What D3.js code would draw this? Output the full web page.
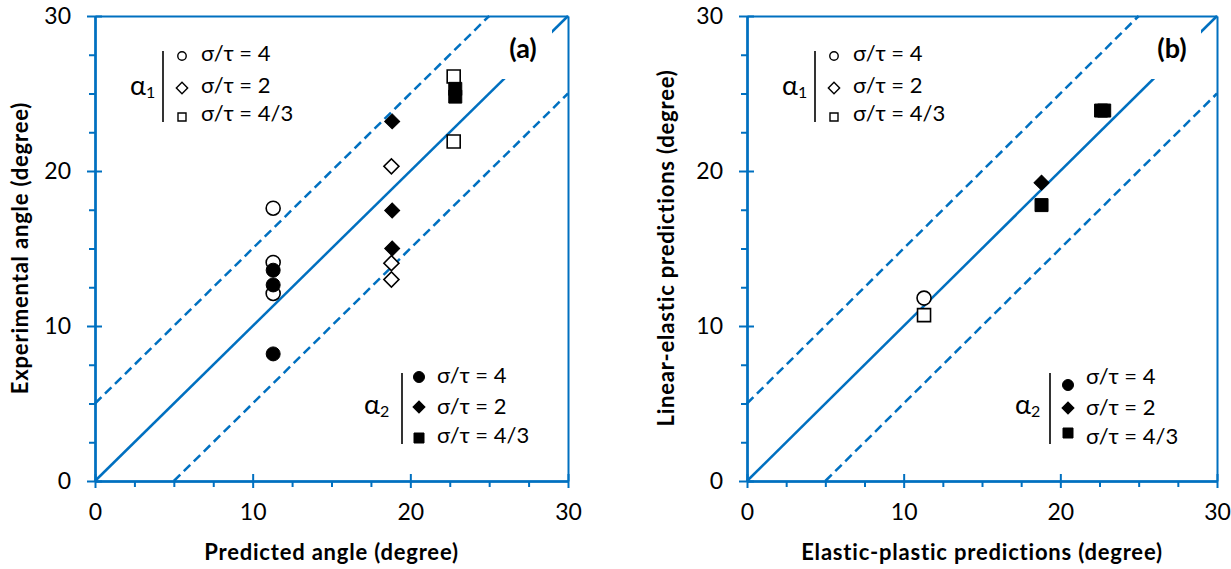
<!DOCTYPE html>
<html>
<head>
<meta charset="utf-8">
<script src="https://cdn.jsdelivr.net/npm/d3@7"></script>
<style>
    body { margin: 0; background: #fff; }
    svg { display: block; font-family: Lato, "Open Sans", sans-serif; }
</style>
</head>
<body>
<svg id="chart" width="1231" height="569"></svg>
<script>
// Axis values (both panels share 0..30 degrees)
const axisDomain = [0, 30];
const majorTicks = [0, 10, 20, 30];
const minorTicks = [2.5, 5, 7.5, 12.5, 15, 17.5, 22.5, 25, 27.5];

// Reference lines: y = x and the +/- 5 degree band
const refSolid = [[0, 0], [30, 30]];
const refUpper = [[0, 5], [25, 30]];
const refLower = [[5, 0], [30, 25]];

const ratioLabels = ['σ/τ = 4', 'σ/τ = 2', 'σ/τ = 4/3'];
const ratioShapes = ['circle', 'diamond', 'square'];

// Panel (a): predicted vs experimental angle
const aAlpha1Ratio4 = [[11.3, 17.6], [11.3, 14.1], [11.3, 12.1]];
const aAlpha2Ratio4 = [[11.3, 13.6], [11.3, 12.65], [11.3, 8.2]];
const aAlpha1Ratio2 = [[18.8, 20.3], [18.8, 14.05], [18.8, 13.0]];
const aAlpha2Ratio2 = [[18.85, 23.2], [18.85, 17.45], [18.85, 15.0]];
const aAlpha1Ratio43 = [[22.75, 26.1], [22.75, 21.9]];
const aAlpha2Ratio43 = [[22.85, 25.3], [22.85, 24.8]];

// Panel (b): elastic-plastic vs linear-elastic predictions
const bAlpha1Ratio4 = [[11.3, 11.8]];
const bAlpha1Ratio43 = [[11.3, 10.7]];
const bAlpha2Ratio2 = [[18.8, 19.25]];
const bAlpha2Ratio43 = [[18.8, 17.8], [22.6, 23.9], [22.8, 23.9]];

const blue = '#0070C0';
const plotTop = 16;
const plotBottom = 481;

const svg = d3.select('#chart');

const panels = [
    {
        left: 95, right: 568, label: '(a)',
        xTitle: 'Predicted angle (degree)', yTitle: 'Experimental angle (degree)',
        yTitleX: 20,
        series: [
            { data: aAlpha1Ratio4, shape: 'circle', filled: false },
            { data: aAlpha2Ratio4, shape: 'circle', filled: true },
            { data: aAlpha1Ratio2, shape: 'diamond', filled: false },
            { data: aAlpha2Ratio2, shape: 'diamond', filled: true },
            { data: aAlpha1Ratio43, shape: 'square', filled: false },
            { data: aAlpha2Ratio43, shape: 'square', filled: true }
        ],
        legendLow: { alpha: 271, bar: 307, marker: 324, text: 342, markerY: [377, 407, 438], textY: [383, 414, 443] }
    },
    {
        left: 747, right: 1217, label: '(b)',
        xTitle: 'Elastic-plastic predictions (degree)', yTitle: 'Linear-elastic predictions (degree)',
        yTitleX: 666,
        series: [
            { data: bAlpha1Ratio4, shape: 'circle', filled: false },
            { data: bAlpha1Ratio43, shape: 'square', filled: false },
            { data: bAlpha2Ratio2, shape: 'diamond', filled: true },
            { data: bAlpha2Ratio43, shape: 'square', filled: true }
        ],
        legendLow: { alpha: 270, bar: 303, marker: 321, text: 339, markerY: [385, 408, 433], textY: [384, 415, 444] }
    }
];

// marker sizes (symbol area)
const bigSize = { circle: 154, square: 169, diamond: 113 };
const legendTopSize = { circle: 56, square: 64, diamond: 64 };
const legendLowSize = { circle: 95, square: 100, diamond: 72 };

function markerPath(shape, size) {
    const type = shape === 'circle' ? d3.symbolCircle : d3.symbolSquare;
    return d3.symbol().type(type).size(size)();
}

function markerTransform(shape, px, py) {
    return `translate(${px},${py})` + (shape === 'diamond' ? ' rotate(45)' : '');
}

function styleAxis(sel) {
    sel.selectAll('path, line').attr('stroke', blue).attr('stroke-width', 2);
    sel.selectAll('text')
        .attr('font-family', 'Lato, "Open Sans", sans-serif')
        .attr('font-size', 23)
        .attr('fill', '#000');
}

function drawLegend(g, x0, cfg, filled) {
    g.append('text')
        .attr('x', x0 + cfg.alpha - 2)
        .attr('y', cfg.alphaY)
        .attr('font-size', 27)
        .html(`α<tspan font-size="16" dy="3">${filled ? 2 : 1}</tspan>`);

    g.append('line')
        .attr('x1', x0 + cfg.bar).attr('x2', x0 + cfg.bar)
        .attr('y1', cfg.barY[0]).attr('y2', cfg.barY[1])
        .attr('stroke', '#000').attr('stroke-width', 1.6);

    const sizes = filled ? legendLowSize : legendTopSize;
    ratioShapes.forEach((shape, i) => {
        g.append('path')
            .attr('d', markerPath(shape, sizes[shape]))
            .attr('transform', markerTransform(shape, x0 + cfg.marker, cfg.markerY[i]))
            .attr('fill', filled ? '#000' : '#fff')
            .attr('stroke', '#000')
            .attr('stroke-width', filled ? 1 : 1.4);

        g.append('text')
            .attr('x', x0 + cfg.text)
            .attr('y', cfg.textY[i])
            .attr('font-size', 22)
            .text(ratioLabels[i]);
    });
}

panels.forEach(p => {
    const x = d3.scaleLinear().domain(axisDomain).range([p.left, p.right]);
    const y = d3.scaleLinear().domain(axisDomain).range([plotBottom, plotTop]);
    const g = svg.append('g');

    // Frame on top and right
    g.append('g').attr('transform', `translate(0,${plotTop})`)
        .call(d3.axisTop(x).tickValues([]).tickSizeOuter(0)).call(styleAxis);
    g.append('g').attr('transform', `translate(${p.right},0)`)
        .call(d3.axisRight(y).tickValues([]).tickSizeOuter(0)).call(styleAxis);

    // Bottom axis: minor ticks outside, major ticks crossing
    const bottom = g.append('g').attr('transform', `translate(0,${plotBottom})`);
    bottom.append('g').call(d3.axisBottom(x).tickValues(minorTicks).tickSize(6).tickSizeOuter(0).tickFormat('')).call(styleAxis);
    bottom.append('g').call(d3.axisBottom(x).tickValues(majorTicks).tickSize(-7).tickSizeOuter(0).tickFormat('')).call(styleAxis);
    bottom.append('g').call(d3.axisBottom(x).tickValues(majorTicks).tickSize(7).tickSizeOuter(0).tickPadding(16)).call(styleAxis);

    // Left axis
    const left = g.append('g').attr('transform', `translate(${p.left},0)`);
    left.append('g').call(d3.axisLeft(y).tickValues(minorTicks).tickSize(6).tickSizeOuter(0).tickFormat('')).call(styleAxis);
    left.append('g').call(d3.axisLeft(y).tickValues(majorTicks).tickSize(-7).tickSizeOuter(0).tickFormat('')).call(styleAxis);
    left.append('g').call(d3.axisLeft(y).tickValues(majorTicks).tickSize(8).tickSizeOuter(0).tickPadding(16)).call(styleAxis);

    // Reference lines
    const line = d3.line().x(d => x(d[0])).y(d => y(d[1]));
    g.append('path').attr('d', line(refSolid))
        .attr('fill', 'none').attr('stroke', blue).attr('stroke-width', 2.5);
    [refUpper, refLower].forEach(pts => {
        g.append('path').attr('d', line(pts))
            .attr('fill', 'none').attr('stroke', blue).attr('stroke-width', 2.5)
            .attr('stroke-dasharray', '9,5');
    });

    // Panel label sits on a white box that hides the line
    g.append('rect')
        .attr('x', p.right - 72).attr('y', plotTop + 10)
        .attr('width', 56).attr('height', 53)
        .attr('fill', '#fff');
    g.append('text')
        .attr('x', p.right - 45).attr('y', 58)
        .attr('text-anchor', 'middle')
        .attr('font-size', 27).attr('font-weight', 'bold')
        .text(p.label);

    // Data points
    p.series.forEach(s => {
        g.selectAll(null)
            .data(s.data)
            .enter()
            .append('path')
            .attr('d', markerPath(s.shape, bigSize[s.shape]))
            .attr('transform', d => markerTransform(s.shape, x(d[0]), y(d[1])))
            .attr('fill', s.filled ? '#000' : '#fff')
            .attr('stroke', '#000')
            .attr('stroke-width', s.filled ? 1 : 1.6);
    });

    // Legends
    drawLegend(g, p.left, {
        alpha: 37, alphaY: 95, bar: 68, barY: [51, 122], marker: 87, text: 106,
        markerY: [56, 88, 117], textY: [61, 93, 121]
    }, false);
    drawLegend(g, p.left, Object.assign({ alphaY: 414, barY: [373, 444] }, p.legendLow), true);

    // Axis titles
    g.append('text')
        .attr('x', (p.left + p.right) / 2).attr('y', 560)
        .attr('text-anchor', 'middle')
        .attr('font-size', 22).attr('font-weight', 'bold')
        .attr('letter-spacing', 0.8)
        .text(p.xTitle);
    g.append('text')
        .attr('transform', `translate(${p.yTitleX},248) rotate(-90)`)
        .attr('text-anchor', 'middle').attr('dy', '0.35em')
        .attr('font-size', 22).attr('font-weight', 'bold')
        .attr('letter-spacing', 0.8)
        .text(p.yTitle);
});
</script>
</body>
</html>
